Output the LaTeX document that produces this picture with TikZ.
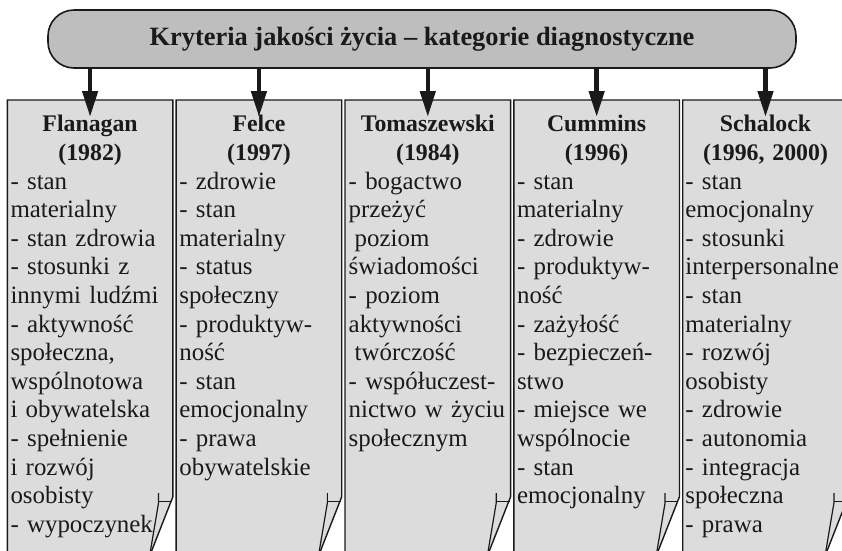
\documentclass[tikz,border=0pt]{standalone}
\usepackage{fontspec}
\setmainfont{Liberation Serif}
\usetikzlibrary{arrows.meta}
\definecolor{boxfill}{HTML}{DCDCDC}
\definecolor{topfill}{HTML}{BEBEBE}
\definecolor{ink}{HTML}{1A1A1A}
\tikzset{
  boxline/.style={draw=ink,line width=1.4pt},
  flapline/.style={draw=ink,line width=1.2pt},
  topbox/.style={draw=ink,line width=1.6pt,fill=topfill,rounded corners=26pt,
    minimum width=748pt,minimum height=58pt,inner sep=0pt,
    font=\fontsize{26.4}{30}\selectfont\bfseries,text=ink},
  arr/.style={draw=ink,line width=4.5pt,-{Triangle[width=15pt,length=26pt]}},
  head/.style={anchor=north,align=center,text width=160pt,inner sep=0pt,
    font=\fontsize{23.8}{28.6}\selectfont\bfseries,text=ink},
  body/.style={anchor=north west,align=left,text width=162pt,inner sep=0pt,
    font=\fontsize{24.9}{28.6}\selectfont,text=ink},
}
\begin{document}
\begin{tikzpicture}[x=1pt,y=-1pt]
\useasboundingbox (0,0) rectangle (842,550);
\clip (0,0) rectangle (842,550);
% category boxes
\foreach \L in {7.3,176.15,345,513.85,682.7}{
  \pgfmathsetmacro\R{\L+165.6}
  \fill[boxfill] (\L,100) -- (\R,100) -- (\R,496.7) -- (\R-23.3,556) -- (\L,556) -- cycle;
  \draw[boxline] (\L,560) -- (\L,100) -- (\R,100) -- (\R,496.7) -- (\R-23.3,556);
  \draw[flapline] (\R-14.4,493) -- (\R-14.4,503) -- (\R-23.3,556);
  \draw[flapline] (\R-14.4,501.7) -- (\R-1,501.7);
}
% title
\node[topbox] (top) at (422,39) {Kryteria jakości życia – kategorie diagnostyczne};
% headings
\node[head] (h1) at (90.1,111.7) {\strut Flanagan\\(1982)};
\node[head] (h2) at (258.95,111.7) {\strut Felce\\(1997)};
\node[head] (h3) at (427.8,111.7) {\strut Tomaszewski\\(1984)};
\node[head] (h4) at (596.65,111.7) {\strut Cummins\\(1996)};
\node[head] (h5) at (765.5,111.7) {\strut Schalock\\(1996, 2000)};
% bodies
\node[body] (t1) at (10.3,168.9) {\strut - stan\\materialny\\- stan zdrowia\\- stosunki z\\innymi ludźmi\\- aktywność\\społeczna,\\wspólnotowa\\i obywatelska\\- spełnienie\\i rozwój\\osobisty\\- wypoczynek};
\node[body] (t2) at (179.15,168.9) {\strut - zdrowie\\- stan\\materialny\\- status\\społeczny\\- produktyw-\\ność\\- stan\\emocjonalny\\- prawa\\obywatelskie};
\node[body] (t3) at (348.5,168.9) {\strut - bogactwo\\przeżyć\\\hspace*{6pt}poziom\\świadomości\\- poziom\\aktywności\\\hspace*{6pt}twórczość\\- współuczest-\\nictwo w życiu\\społecznym};
\node[body] (t4) at (516.85,168.9) {\strut - stan\\materialny\\- zdrowie\\- produktyw-\\ność\\- zażyłość\\- bezpieczeń-\\stwo\\- miejsce we\\wspólnocie\\- stan\\emocjonalny};
\node[body] (t5) at (685.2,168.9) {\strut - stan\\emocjonalny\\- stosunki\\interpersonalne\\- stan\\materialny\\- rozwój\\osobisty\\- zdrowie\\- autonomia\\- integracja\\społeczna\\- prawa};
% arrows
\foreach \i/\x in {1/90.1,2/258.95,3/427.8,4/596.65,5/765.5}{
  \coordinate (b\i) at (\x,117);
  \draw[arr] (top.south -| b\i) -- (b\i);
}
\end{tikzpicture}
\end{document}
